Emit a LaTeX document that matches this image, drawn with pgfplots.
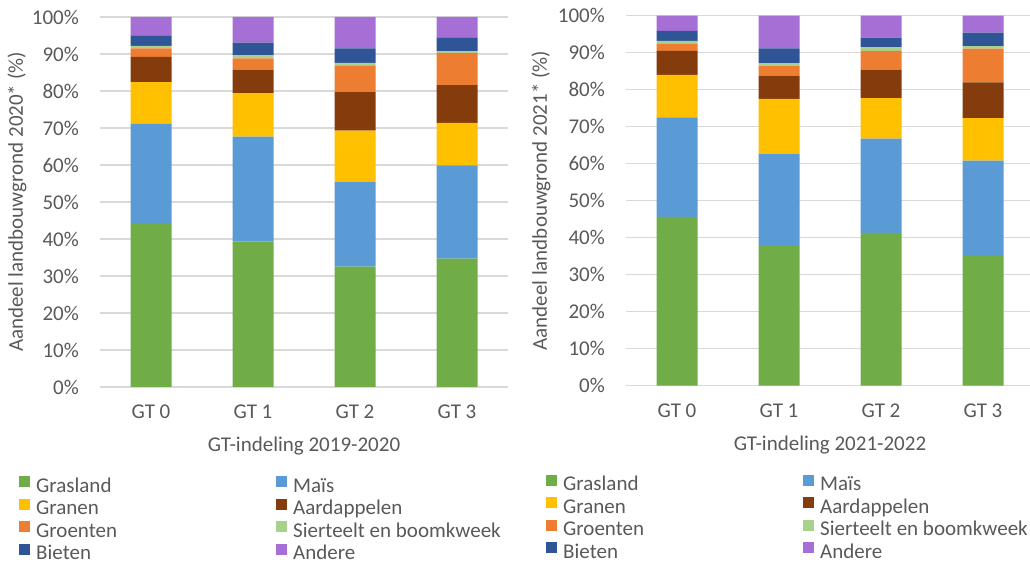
\documentclass[border=0pt]{standalone}
\usepackage{fontspec}
\setmainfont{Carlito}
\usepackage{pgfplots}
\usepackage{pgfplotstable}
\pgfplotsset{compat=1.18}

\definecolor{cGras}{HTML}{70AD47}
\definecolor{cMais}{HTML}{5B9BD5}
\definecolor{cGranen}{HTML}{FFC000}
\definecolor{cAard}{HTML}{843C0C}
\definecolor{cGroen}{HTML}{ED7D31}
\definecolor{cSier}{HTML}{A9D18E}
\definecolor{cBiet}{HTML}{2F5597}
\definecolor{cAndere}{HTML}{A66FD5}
\definecolor{txt}{HTML}{595959}
\definecolor{gridc}{HTML}{D9D9D9}

% aandeel per teelt (%), per GT-klasse
\pgfplotstableread{
x gras mais granen aard groen sier biet andere
0 44.1 27.0 11.3 6.8 2.3 0.7 2.8 5.0
1 39.3 28.4 11.7 6.4 3.0 0.9 3.4 6.9
2 32.5 23.0 13.8 10.4 7.2 0.7 3.9 8.5
3 34.7 25.2 11.5 10.2 8.7 0.5 3.7 5.5
}\dataA
\pgfplotstableread{
x gras mais granen aard groen sier biet andere
0 45.6 26.9 11.5 6.5 1.9 0.8 2.7 4.1
1 38.0 24.7 14.8 6.3 2.7 0.7 4.0 8.8
2 41.3 25.5 10.9 7.7 5.1 1.0 2.6 5.9
3 35.3 25.5 11.5 9.7 9.1 0.7 3.6 4.6
}\dataB

\newcommand\fs{\fontsize{21pt}{25pt}\selectfont}

\pgfplotsset{
  gtbar/.style={
    anchor=south west,
    scale only axis,
    width=408pt, height=370pt,
    ybar stacked, bar width=41pt,
    xmin=-0.5, xmax=3.5, ymin=0, ymax=100,
    xtick={0,1,2,3}, xticklabels={GT 0,GT 1,GT 2,GT 3},
    ytick={0,10,...,100},
    yticklabel={\pgfmathprintnumber{\tick}\%},
    /pgf/number format/assume math mode=true,
    ymajorgrids, grid style={gridc, line width=1.3pt},
    axis line style={draw=none},
    major tick length=0pt,
    tick label style={font=\fs, text=txt, inner sep=0pt},
    yticklabel style={xshift=-21pt},
    xticklabel style={yshift=-18pt},
    label style={font=\fs, text=txt, inner sep=0pt},
    xlabel style={at={(axis description cs:0.5,0)}, anchor=north, yshift=-50pt},
    legend columns=2,
    legend image code/.code={\fill[##1] (0pt,0pt) rectangle (11pt,11pt);},
    legend style={draw=none, fill=none, font=\fs, text=txt,
      at={(axis description cs:0,0)}, anchor=north west,
      nodes={inner sep=0pt, text height=15pt, text depth=5pt},
      row sep=1.5pt,
      /tikz/every odd column/.append style={column sep=6pt},
      /tikz/column 2/.style={text width=240pt}},
    legend cell align=left,
  },
  every axis plot/.append style={draw=none},
}

\begin{document}
\begin{tikzpicture}
\useasboundingbox (0,0) rectangle (1030pt,564pt);

\begin{axis}[gtbar, at={(100pt,177pt)},
  xlabel={GT-indeling 2019-2020},
  ylabel={Aandeel landbouwgrond 2020* (\%)},
  ylabel style={at={(axis description cs:-0.2034,0.5)}, anchor=center},
  legend style={xshift=-84pt, yshift=-87pt}]
\addplot[fill=cGras] table[x=x,y=gras] {\dataA};
\addplot[fill=cMais] table[x=x,y=mais] {\dataA};
\addplot[fill=cGranen] table[x=x,y=granen] {\dataA};
\addplot[fill=cAard] table[x=x,y=aard] {\dataA};
\addplot[fill=cGroen] table[x=x,y=groen] {\dataA};
\addplot[fill=cSier] table[x=x,y=sier] {\dataA};
\addplot[fill=cBiet] table[x=x,y=biet] {\dataA};
\addplot[fill=cAndere] table[x=x,y=andere] {\dataA};
\legend{Grasland,Maïs,Granen,Aardappelen,Groenten,Sierteelt en boomkweek,Bieten,Andere}
\end{axis}

\begin{axis}[gtbar, at={(626pt,178.3pt)},
  xlabel={GT-indeling 2021-2022},
  ylabel={Aandeel landbouwgrond 2021* (\%)},
  ylabel style={at={(axis description cs:-0.2083,0.5)}, anchor=center},
  legend style={xshift=-83pt, yshift=-87pt}]
\addplot[fill=cGras] table[x=x,y=gras] {\dataB};
\addplot[fill=cMais] table[x=x,y=mais] {\dataB};
\addplot[fill=cGranen] table[x=x,y=granen] {\dataB};
\addplot[fill=cAard] table[x=x,y=aard] {\dataB};
\addplot[fill=cGroen] table[x=x,y=groen] {\dataB};
\addplot[fill=cSier] table[x=x,y=sier] {\dataB};
\addplot[fill=cBiet] table[x=x,y=biet] {\dataB};
\addplot[fill=cAndere] table[x=x,y=andere] {\dataB};
\legend{Grasland,Maïs,Granen,Aardappelen,Groenten,Sierteelt en boomkweek,Bieten,Andere}
\end{axis}
\end{tikzpicture}
\end{document}
